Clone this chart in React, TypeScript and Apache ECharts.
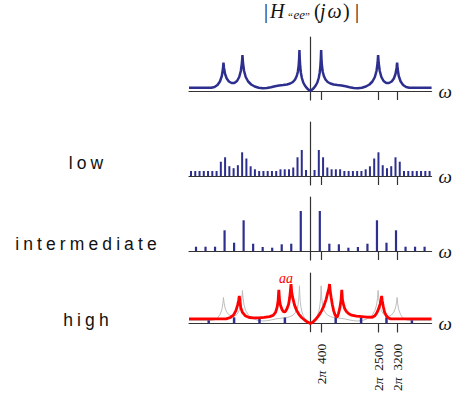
import React, { useEffect, useRef } from "react";
import * as echarts from "echarts";

// ---- data ----
const X_MIN = -4470;
const X_MAX = 4470;
const TICK_FREQS = [400, 2500, 3200];

// |H_"ee"(jw)|, positive frequencies (Hz, magnitude); spectrum is symmetric
const H_FREQ = [0, 60, 130, 200, 260, 310, 345, 370, 388, 400, 412, 430, 460, 500, 560, 640, 740, 860, 1000, 1150, 1300, 1450, 1600, 1750, 1900, 2050, 2180, 2290, 2380, 2440, 2480, 2500, 2520, 2560, 2620, 2700, 2800, 2900, 3000, 3080, 3140, 3180, 3200, 3220, 3260, 3330, 3420, 3530, 3650, 4470];
const H_MAG = [0, 1.2, 3, 5.5, 8.5, 13, 18, 24, 32, 41, 32, 25, 19, 15, 11.5, 9, 7.5, 6.5, 6, 5.5, 4.8, 3.8, 3, 2.7, 3.2, 4.5, 6.5, 9.5, 14, 20, 28, 36, 28, 20, 14, 10, 8, 8, 9.5, 12.5, 17, 23, 28.3, 22, 15, 9.5, 6, 4, 3.3, 3.3];

// harmonic samples (k = 1..N) for each pitch
const LOW_F0 = 157;
const LOW_MAGS = [6, 26, 18.7, 8.5, 6.7, 6.7, 6.7, 5, 5, 5, 5, 5, 6.7, 9.7, 17.5, 23.7, 10.8, 7.8, 9.8, 18.7, 14.3, 5, 5, 5, 5, 5, 5, 5];
const INT_F0 = 351;
const INT_MAGS = [40, 7.3, 6.7, 3.3, 4, 7.3, 30.7, 8.3, 20.7, 4.3, 4.3, 4.3];
const HIGH_F0 = 936;
const HIGH_MAGS = [6.5, 6.5, 6.7, 3.5];

// aliased estimate (red), full frequency range
const RED_FREQ = [-4470, -3100, -2950, -2830, -2740, -2680, -2640, -2616, -2595, -2560, -2500, -2400, -2250, -2100, -1900, -1700, -1500, -1370, -1280, -1220, -1185, -1160, -1135, -1100, -1040, -980, -920, -860, -800, -760, -735, -710, -685, -640, -580, -500, -420, -320, -200, -100, 0, 100, 200, 320, 420, 500, 580, 640, 685, 710, 735, 770, 810, 860, 910, 960, 1000, 1040, 1090, 1135, 1160, 1185, 1220, 1270, 1330, 1420, 1520, 1700, 1900, 2100, 2280, 2380, 2460, 2530, 2580, 2610, 2630, 2650, 2690, 2740, 2800, 2880, 2960, 4470];
const RED_MAG = [5, 5, 6.5, 9, 14, 20, 25, 30, 24, 17, 12, 8.5, 6.5, 6, 6.2, 6.7, 7.5, 8.8, 12, 18, 25, 36.6, 26, 20, 15, 12.5, 13, 16, 21, 28, 35, 43, 34, 27, 20, 14, 10, 6.5, 3.5, 1.5, 0, 1.5, 4.5, 9, 14, 19, 26, 33, 38, 43, 35, 28, 21, 14, 9.5, 7, 7.5, 11, 17, 26, 36.6, 26, 21, 16, 13, 10.5, 9, 8, 7.5, 7, 6.8, 8.5, 12, 17, 22, 27, 30, 25, 18.5, 12, 8.5, 6, 5, 5];

const ROW_LABELS = ["low", "intermediate", "high"];

// ---- styling ----
const NAVY = "#2d2f8e";
const AXIS = "#333333";
const SERIF = "Liberation Serif";
const SANS = "Liberation Sans";
const PANELS = [
  { top: 37, height: 63 },
  { top: 122, height: 63 },
  { top: 197, height: 63 },
  { top: 273, height: 64 },
];
const Y_BELOW = 9;

function pairs(xs: number[], ys: number[]) {
  return xs.map((x, i) => [x, ys[i]]);
}
function symmetric(xs: number[], ys: number[]) {
  const out: number[][] = [];
  for (let i = xs.length - 1; i > 0; i--) out.push([-xs[i], ys[i]]);
  for (let i = 0; i < xs.length; i++) out.push([xs[i], ys[i]]);
  return out;
}
function harmonics(f0: number, mags: number[]) {
  const out: number[][] = [];
  for (let k = mags.length; k >= 1; k--) out.push([-k * f0, mags[k - 1]]);
  for (let k = 1; k <= mags.length; k++) out.push([k * f0, mags[k - 1]]);
  return out;
}

export default function App() {
  const ref = useRef<HTMLDivElement>(null);
  useEffect(() => {
    const el = ref.current;
    if (!el) return;
    const chart = echarts.init(el, undefined, { renderer: "svg" });
    const H = symmetric(H_FREQ, H_MAG);

    const grid = PANELS.map((p) => ({ left: 189, width: 249, top: p.top, height: p.height }));
    const xAxis = PANELS.map((p, i) => ({
      gridIndex: i,
      type: "value",
      min: X_MIN,
      max: X_MAX,
      axisLine: { show: true, onZero: true, lineStyle: { color: AXIS, width: 1.2 } },
      axisTick: { show: true, customValues: TICK_FREQS, length: 9, inside: false, lineStyle: { color: AXIS, width: 1.2 } },
      axisLabel:
        i === 3
          ? {
              show: true,
              customValues: TICK_FREQS,
              rotate: 90,
              margin: 12,
              fontFamily: SERIF,
              fontSize: 13.5,
              color: "#111",
              formatter: (v: number) => "2{p|π}\u2002" + v,
              rich: { p: { fontFamily: SERIF, fontSize: 13.5, fontStyle: "italic", color: "#111" } },
            }
          : { show: false },
      splitLine: { show: false },
      name: "ω",
      nameLocation: "end",
      nameGap: 7,
      nameTextStyle: { fontFamily: SERIF, fontStyle: "italic", fontSize: 19, color: "#111", align: "left", verticalAlign: "middle" },
    }));
    const yAxis = PANELS.map((p, i) => ({
      gridIndex: i,
      type: "value",
      min: -Y_BELOW,
      max: p.height - Y_BELOW,
      axisLine: { show: true, onZero: true, lineStyle: { color: AXIS, width: 1.2 } },
      axisTick: { show: false },
      axisLabel: { show: false },
      splitLine: { show: false },
    }));

    const series: any[] = [
      { type: "line", xAxisIndex: 0, yAxisIndex: 0, data: H, showSymbol: false, lineStyle: { color: NAVY, width: 2.5 }, z: 3 },
      { type: "bar", xAxisIndex: 1, yAxisIndex: 1, data: harmonics(LOW_F0, LOW_MAGS), barWidth: 2, itemStyle: { color: NAVY } },
      { type: "bar", xAxisIndex: 2, yAxisIndex: 2, data: harmonics(INT_F0, INT_MAGS), barWidth: 2.2, itemStyle: { color: NAVY } },
      { type: "line", xAxisIndex: 3, yAxisIndex: 3, data: H, showSymbol: false, lineStyle: { color: "#bdbdbd", width: 1 }, z: 2 },
      { type: "bar", xAxisIndex: 3, yAxisIndex: 3, data: harmonics(HIGH_F0, HIGH_MAGS), barWidth: 2.5, itemStyle: { color: NAVY }, z: 3 },
      { type: "line", xAxisIndex: 3, yAxisIndex: 3, data: pairs(RED_FREQ, RED_MAG), showSymbol: false, lineStyle: { color: "#ff0000", width: 2.8 }, z: 4 },
    ];

    const labelY = [163, 244, 320];
    const big = { fontFamily: SERIF, fontSize: 20, fill: "#111" };
    const graphic: any[] = [
      {
        type: "text",
        left: 264,
        top: 1,
        style: {
          text: "{a||}{b|H}{c|“}{d|ee}{e|”}{f|(}{g|j}{h|ω}{k|)}{l||}",
          fill: "#111",
          rich: {
            a: { ...big, width: 6 },
            b: { ...big, fontStyle: "italic", width: 18 },
            c: { fontFamily: SERIF, fontSize: 11, width: 5.5, verticalAlign: "bottom", fill: "#111" },
            d: { fontFamily: SERIF, fontSize: 13, fontStyle: "italic", width: 11.5, verticalAlign: "bottom", fill: "#111" },
            e: { fontFamily: SERIF, fontSize: 11, width: 9, verticalAlign: "bottom", fill: "#111" },
            f: { ...big, width: 6 },
            g: { ...big, fontStyle: "italic", width: 7.5 },
            h: { ...big, fontStyle: "italic", width: 15.5 },
            k: { ...big, width: 12 },
            l: { ...big, width: 4 },
          },
        },
      },
      {
        type: "text",
        x: 286,
        y: 278.5,
        style: { text: "aa", fill: "#ff0000", fontFamily: SERIF, fontStyle: "italic", fontSize: 14, textAlign: "center", textVerticalAlign: "middle" },
      },
      ...ROW_LABELS.map((t, i) => ({
        type: "text",
        x: 88,
        y: labelY[i],
        style: { text: t, fill: "#111", fontFamily: SANS, fontSize: 17.5, textAlign: "center", textVerticalAlign: "middle" },
      })),
    ];

    chart.setOption({ animation: false, grid, xAxis, yAxis, series, graphic });

    const applySpacing = () => {
      el.querySelectorAll("text").forEach((t) => {
        const s = (t.textContent || "").trim();
        if (ROW_LABELS.indexOf(s) >= 0) (t as SVGTextElement).style.letterSpacing = "4.1px";
      });
    };
    applySpacing();
    chart.on("finished", applySpacing);
    const raf = requestAnimationFrame(applySpacing);
    return () => {
      cancelAnimationFrame(raf);
      chart.dispose();
    };
  }, []);
  return <div ref={ref} style={{ position: "fixed", left: 0, top: 0, width: 453, height: 394, background: "#fff" }} />;
}
